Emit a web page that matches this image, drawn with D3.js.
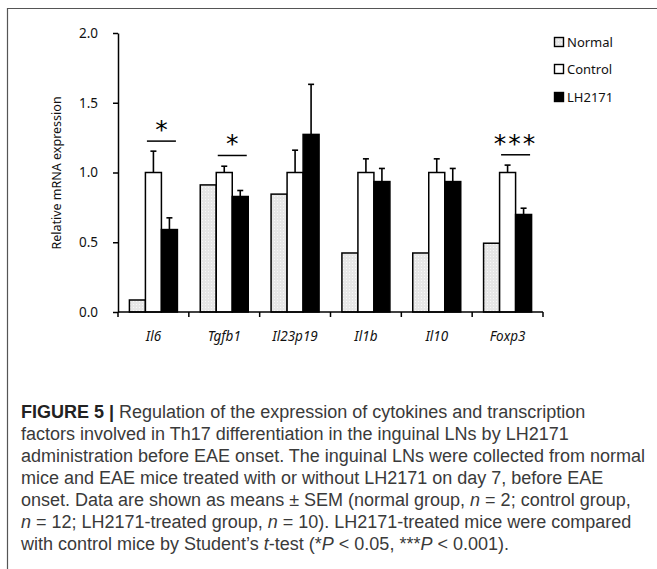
<!DOCTYPE html>
<html>
<head>
<meta charset="utf-8">
<script src="https://cdn.jsdelivr.net/npm/d3@7"></script>
<style>
  body { margin: 0; background: #fff; }
  svg { display: block; }
</style>
</head>
<body>
<div class="contents"></div>
<script>
var width = 657;
var height = 569;

// data
var genes = ["Il6", "Tgfb1", "Il23p19", "Il1b", "Il10", "Foxp3"];
var groups = ["Normal", "Control", "LH2171"];
var normalVals = [0.086, 0.911, 0.845, 0.423, 0.423, 0.493];
var controlVals = [1.0, 1.0, 1.0, 1.0, 1.0, 1.0];
var controlErr = [0.153, 0.045, 0.160, 0.098, 0.098, 0.053];
var lhVals = [0.591, 0.828, 1.273, 0.935, 0.935, 0.699];
var lhErr = [0.084, 0.043, 0.359, 0.094, 0.094, 0.045];
var yTicks = [0, 0.5, 1.0, 1.5, 2.0];

var sigGenes = ["Il6", "Tgfb1", "Foxp3"];
var sigMarks = ["*", "*", "***"];
var sigLevel = [1.225, 1.122, 1.127];

var caption = [
  "Regulation of the expression of cytokines and transcription",
  "factors involved in Th17 differentiation in the inguinal LNs by LH2171",
  "administration before EAE onset. The inguinal LNs were collected from normal",
  "mice and EAE mice treated with or without LH2171 on day 7, before EAE",
  "onset. Data are shown as means \u00b1 SEM (normal group, |n| = 2; control group,",
  "|n| = 12; LH2171-treated group, |n| = 10). LH2171-treated mice were compared",
  "with control mice by Student\u2019s |t|-test (*|P| < 0.05, ***|P| < 0.001)."
];

var svg = d3.select(".contents").append("svg")
    .attr("width", width)
    .attr("height", height);

var defs = svg.append("defs");
var pat = defs.append("pattern")
    .attr("id", "dots")
    .attr("width", 3).attr("height", 3)
    .attr("patternUnits", "userSpaceOnUse");
pat.append("rect").attr("width", 3).attr("height", 3).attr("fill", "#e6e6e6");
pat.append("rect").attr("x", 1).attr("y", 1).attr("width", 1).attr("height", 1).attr("fill", "#f8f8f8");

// outer frame (open at right/bottom like the crop)
svg.append("path")
    .attr("d", "M7.5," + height + "V8.5H" + width)
    .style("fill", "none")
    .style("stroke", "#555")
    .style("stroke-width", 1.2);

var x = d3.scaleBand().domain(genes).range([118, 543]);
var bw = x.bandwidth();
var x1 = d3.scaleBand().domain(groups).range([(bw - 48) / 2, (bw + 48) / 2]);
var y = d3.scaleLinear().domain([0, 2]).range([312, 33]);

var fillOf = {"Normal": "url(#dots)", "Control": "#fff", "LH2171": "#000"};

var rows = [];
genes.forEach(function(g, i) {
  rows.push({gene: g, group: "Normal", v: normalVals[i], e: 0});
  rows.push({gene: g, group: "Control", v: controlVals[i], e: controlErr[i]});
  rows.push({gene: g, group: "LH2171", v: lhVals[i], e: lhErr[i]});
});

// error bars (drawn first so the bar outline sits on top)
var eb = svg.selectAll(".err")
    .data(rows.filter(function(d) { return d.e > 0; }))
    .enter().append("g").attr("class", "err")
    .style("stroke", "#000").style("stroke-width", 1.6);
eb.append("line")
    .attr("x1", function(d) { return x(d.gene) + x1(d.group) + x1.bandwidth() / 2; })
    .attr("x2", function(d) { return x(d.gene) + x1(d.group) + x1.bandwidth() / 2; })
    .attr("y1", function(d) { return y(d.v); })
    .attr("y2", function(d) { return y(d.v + d.e); });
eb.append("line")
    .attr("x1", function(d) { return x(d.gene) + x1(d.group) + x1.bandwidth() / 2 - 3; })
    .attr("x2", function(d) { return x(d.gene) + x1(d.group) + x1.bandwidth() / 2 + 3; })
    .attr("y1", function(d) { return y(d.v + d.e); })
    .attr("y2", function(d) { return y(d.v + d.e); });

svg.selectAll(".bar")
    .data(rows)
    .enter().append("rect").attr("class", "bar")
    .attr("x", function(d) { return x(d.gene) + x1(d.group); })
    .attr("y", function(d) { return y(d.v); })
    .attr("width", x1.bandwidth())
    .attr("height", function(d) { return y(0) - y(d.v); })
    .style("fill", function(d) { return fillOf[d.group]; })
    .style("stroke", "#000")
    .style("stroke-width", 1.5);

// y axis
var yAxis = svg.append("g")
    .attr("transform", "translate(118,0)")
    .call(d3.axisLeft(y).tickValues(yTicks).tickFormat(d3.format(".1f")).tickSize(5).tickSizeOuter(0));
yAxis.select(".domain").style("stroke", "#000").style("stroke-width", 1.5);
yAxis.selectAll(".tick line").style("stroke", "#000").style("stroke-width", 1.5);
yAxis.selectAll(".tick text")
    .attr("x", -20)
    .style("font-family", "'Noto Sans', sans-serif")
    .style("font-size", "13.5px")
    .style("fill", "#111");

// x axis: line, boundary ticks and italic gene names
var bounds = genes.map(function(g) { return x(g); }).concat([x.range()[1]]);
svg.append("line")
    .attr("x1", x.range()[0]).attr("x2", x.range()[1])
    .attr("y1", y(0)).attr("y2", y(0))
    .style("stroke", "#000").style("stroke-width", 1.5);
svg.selectAll(".xtick")
    .data(bounds)
    .enter().append("line").attr("class", "xtick")
    .attr("x1", function(d) { return d; }).attr("x2", function(d) { return d; })
    .attr("y1", y(0)).attr("y2", y(0) + 5)
    .style("stroke", "#000").style("stroke-width", 1.5);
var xAxis = svg.append("g")
    .attr("transform", "translate(0," + y(0) + ")")
    .call(d3.axisBottom(x).tickSize(0));
xAxis.select(".domain").remove();
xAxis.selectAll(".tick text")
    .attr("y", 19)
    .style("font-family", "'Noto Sans', sans-serif")
    .style("font-style", "italic")
    .style("font-size", "13.5px")
    .style("fill", "#111");

svg.append("text")
    .attr("transform", "translate(61,173) rotate(-90)")
    .attr("text-anchor", "middle")
    .style("font-family", "'Noto Sans', sans-serif")
    .style("font-size", "12.5px")
    .style("fill", "#111")
    .text("Relative mRNA expression");

// significance marks
sigGenes.forEach(function(g, i) {
  var cx = x(g) + (x1("Control") + x1("LH2171") + x1.bandwidth()) / 2;
  svg.append("line")
      .attr("x1", cx - 14.5).attr("x2", cx + 14.5)
      .attr("y1", y(sigLevel[i])).attr("y2", y(sigLevel[i]))
      .style("stroke", "#000").style("stroke-width", 1.5);
  svg.append("text")
      .attr("x", cx)
      .attr("y", y(sigLevel[i]) - 3)
      .attr("text-anchor", "middle")
      .attr("letter-spacing", sigMarks[i].length > 1 ? "2px" : "0px")
      .style("font-family", "'DejaVu Sans', sans-serif")
      .style("font-size", "25px")
      .style("fill", "#000")
      .text(sigMarks[i]);
});

// legend
var leg = svg.selectAll(".leg")
    .data(groups)
    .enter().append("g").attr("class", "leg")
    .attr("transform", function(d, i) { return "translate(554," + [42, 69, 97][i] + ")"; });
leg.append("rect")
    .attr("x", 0.5).attr("y", -4.5)
    .attr("width", 9).attr("height", 9)
    .style("fill", function(d) { return fillOf[d]; })
    .style("stroke", "#000").style("stroke-width", 1.4);
leg.append("text")
    .attr("x", 13).attr("y", 0)
    .attr("dy", "0.35em")
    .style("font-family", "'Noto Sans', sans-serif")
    .style("font-size", "13px")
    .style("fill", "#111")
    .text(function(d) { return d; });

// caption, |...| marks italic runs
var cap = svg.append("g")
    .style("font-family", "'Liberation Sans', Arial, sans-serif")
    .style("font-size", "18px")
    .style("fill", "#3a3a3a");
caption.forEach(function(line, i) {
  var t = cap.append("text").attr("x", 21).attr("y", 418 + i * 22);
  if (i === 0) {
    t.append("tspan").style("font-weight", "bold").style("fill", "#222").text("FIGURE 5 | ");
  }
  line.split("|").forEach(function(part, k) {
    var s = t.append("tspan").text(part);
    if (k % 2 === 1) s.style("font-style", "italic");
  });
});
</script>
</body>
</html>
